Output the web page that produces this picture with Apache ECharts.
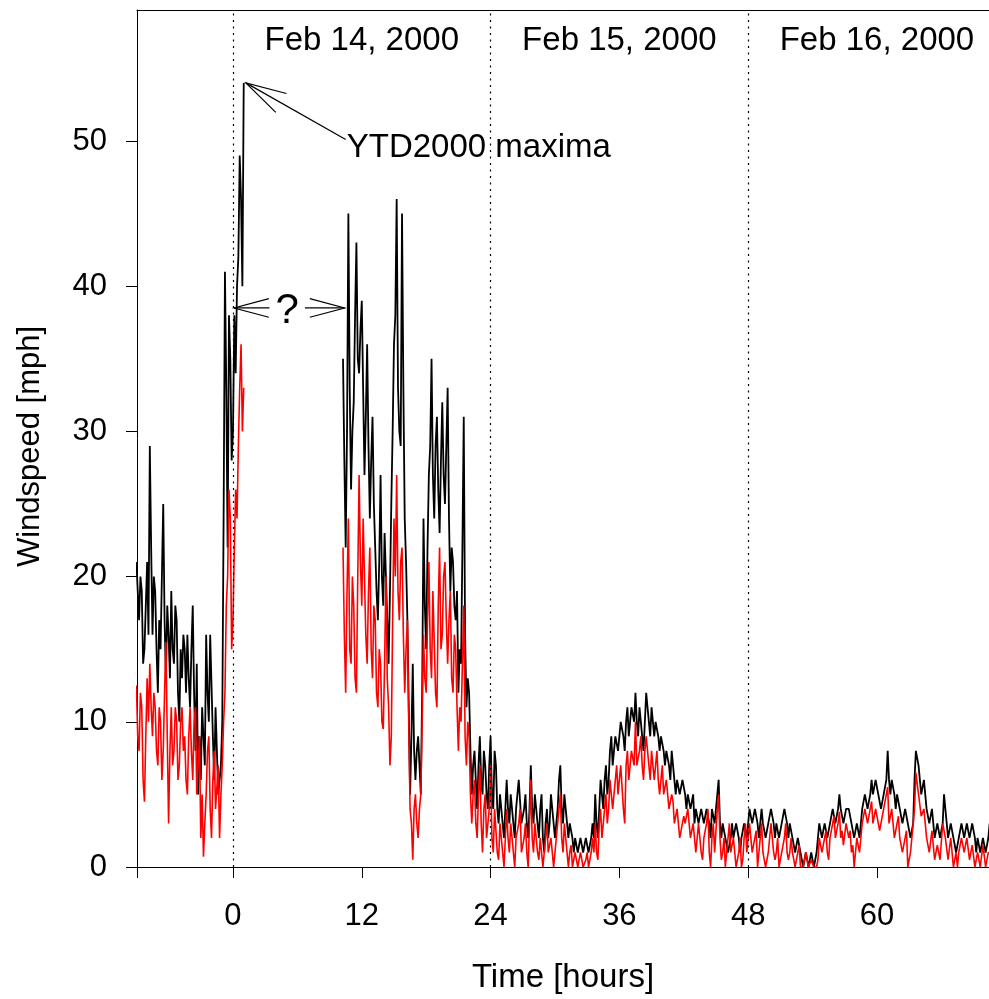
<!DOCTYPE html>
<html><head><meta charset="utf-8">
<script src="https://cdn.jsdelivr.net/npm/echarts@6/dist/echarts.min.js"></script>
<style>html,body{margin:0;padding:0;background:#fff}#c{width:989px;height:999px}</style>
</head><body><div id="c"></div>
<script>
// sampling step (hours) and segment start times
const STEP = 0.125;
const startA = -9;
const startB = 10.25;

// gust (black) before the data gap, -9 h .. 1 h (8 readings per hour)
const gustA = [
  21,19,17,20,19,14,15,18,
  21,16,29,22,16,20,19,15,
  12,17,15,20,25,17,13,18,
  16,13,19,15,14,18,17,12,
  10,15,13,16,15,12,16,13,
  11,15,18,12,8,14,5,9,
  6,11,9,7,16,12,10,16,
  16,9,6,11,8,5,5,7,
  10,24,41,33,22,38,35,28,
  30,38,34,40,42,49,46,40,
  54
];
// mean (red) before the gap
const meanA = [
  12.5,9,8,12,11,6,4.5,9,
  13,10,14,11,9,12,11,8,
  7,11,10,6,8,12,15.5,9,
  3,8,11,7,8,11,10,6,
  7,10,11,8,9,6,5,9,
  11,8,6,10,11,5,7,9,
  2,5,0.7,3,5,8,9,4,
  2,6,8,4,4,7,2,5,
  7,10,12,18,20,26,24,15,
  17,22,26,24,29,33,36,30,
  33
];

// gust (black) after the gap, 10.25 h .. 70.5 h
const gustB = [
  35,28,22,30,45,33,
  26,30,32,38,43,35,34,37,
  39,33,27,31,36,29,24,28,
  31,25,22,19,17,21,27,20,
  18,23,20,17,14,19,25,30,
  36,38,46,33,30,29,45,33,
  24,21,17,11,5,9,14,8,
  6,8,9,7,5,12,24,18,
  15,22,27,29,35,27,24,29,
  31,26,23,28,32,27,25,29,
  33,24,19,22,21,18,17,19,
  12,15,14,22,31,16,11,13,
  12,8,5,7,8,6,4,7,
  9,6,5,8,7,5,4,7,
  9,5,4,8,7,4,3,5,
  5,3,2,4,6,4,3,5,
  4,3,2,4,5,6,6,3,
  3,4,5,3,2,4,7,4,
  3,5,4,3,2,4,5,2,
  1,3,4,2,3,5,5,3,
  2,3,4,6,7,4,3,5,
  4,3,2,3,3,2,1,2,
  2,1,1,2,2,1,1,2,
  2,1,1,2,3,2,5,3,
  2,4,6,5,4,6,7,5,
  6,8,9,7,7,9,9,8,
  8,10,10,9,8,10,11,9,
  9,11,11,10,12,10,9,11,
  11,9,8,10,12,11,10,9,
  11,10,9,10,10,9,8,9,
  9,8,7,8,8,7,6,8,
  7,6,5,6,6,5,5,6,
  6,5,4,5,5,4,4,5,
  3,4,4,3,3,4,4,3,
  3,4,4,3,2,4,4,3,
  3,5,6,3,2,3,3,2,
  2,1,1,2,3,2,2,3,
  3,2,1,2,2,3,3,2,
  2,4,4,3,3,4,4,3,
  2,3,4,3,3,2,2,3,
  3,4,4,3,2,3,3,2,
  2,3,3,4,4,3,2,3,
  3,2,2,1,1,2,2,1,
  1,0,0,1,1,0,0,1,
  1,0,0,1,1,3,3,2,
  2,3,3,2,2,3,3,4,
  4,3,3,4,5,4,4,3,
  3,4,4,4,4,3,3,2,
  2,3,3,2,2,4,4,5,
  5,4,4,5,6,5,5,6,
  6,5,5,4,4,5,5,6,
  8,6,5,6,6,5,4,5,
  5,4,4,3,3,4,4,3,
  3,2,2,3,6,8,8,7,
  7,5,5,6,6,4,4,3,
  3,4,4,2,2,3,3,2,
  2,3,5,4,3,2,2,3,
  3,2,2,1,1,2,2,3,
  3,2,2,3,3,2,2,3,
  3,2,1,2,2,1,1,2,
  2,1,1,2,3
];
// mean (red) after the gap
const meanB = [
  22,16,12,19,24,15,
  14,20,18,13,12,20,27,21,
  18,24,24,16,14,19,22,15,
  13,18,17,12,11,15,14,10,
  9.5,14,20,13,11,7,9,17,
  24,20,27,19,17,21,22,16,
  12,15,17,10,4,3,0.5,4,
  5,3,2,4,5,10,16,13,
  12,17,21,15,13,19,19,12,
  11,18,22,15,16,20,21,17,
  14,17,19,13,12,16,15,11,
  8,11,10,14,18,9,7,10,
  9,5,3,5,6,3,2,5,
  7,3,1,4,5,2,2,4,
  7,2,1,4,4,1,0.5,3,
  3,1,0,2,4,2,1,3,
  3,1,0,2,2,3,4,1,
  1,2,3,1,0,3,6,2,
  1,3,3,1,0.5,2,2,0,
  0,2,3,1,1,2,2,0,
  0,2,3,4,5,2,1,3,
  2,1,0,1,1.5,0,0,1,
  1,0,0,1,1,0,0,0.5,
  1,0,0,1,2,1,3,1,
  0.5,3,4,2,2,4,5,3,
  4,6,6,4,4,6,7,5,
  6,7,7,4,3,7,8,6,
  6,8,8,7,10,7,7,8,
  9,7,6,8,9,8,7,6,
  8,7,6,7,8,6,5,6,
  7,5,5,6,6,4,4,5,
  4.5,3,3,4,4,2,2.5,3,
  3.5,3,3,4,4,2,2,3,
  3,1,1,3,3,1,0.5,2,
  2,3,4,1,0,2,3,1,
  1,4,5,2,0.5,1,2,0,
  0,2,3,1,1,2,2,0,
  0,1,2,0,0.5,2,3,1,
  1,3,3,1,1,2,2.5,0,
  0,2,3,1,1,0,0,1,
  2,3,3,1,0.5,1,2,0,
  0,1,1.5,2,3,1,0.5,1,
  2,1,1,0,0,1,1.5,0,
  0,0,0,1,1,0,0,0.5,
  0.5,0,0,0,0.5,2,2,1,
  1,2,2.5,1,0.5,2,2,3,
  3.5,2,2,3,3.8,2,2.5,1.5,
  1.5,3,3,2,2.5,1,1.5,0,
  0,2,2,1,1,3,3,4,
  4,3,3,4,4.5,3,3,4,
  4,3,2.5,3,3,4,4,5,
  5.5,3,3,4,4,2,2,3,
  3.5,2,2,1,1,2,2.5,0,
  0,1,1,3,4,6.5,6.5,5,
  5,3.5,3.5,4,4,2,2,1,
  1,2.5,2.5,0.5,0.5,1.5,1.5,0.5,
  0.5,3,3,2,2,0.5,0.5,2,
  2,0,0,1,0,1,1,2,
  2,1,1,2,2,0.5,0.5,1.5,
  1.5,0,0,1,1,0,0,1.5,
  1.5,0,0,1,1
];

const xTicks = [0, 12, 24, 36, 48, 60];
const yTicks = [0, 10, 20, 30, 40, 50];
const dayLines = [0, 24, 48];
const dayLabels = ['Feb 14, 2000', 'Feb 15, 2000', 'Feb 16, 2000'];
const dayLabelHours = [12, 36, 60];
const maxLabel = 'YTD2000 maxima';
const xName = 'Time [hours]';
const yName = 'Windspeed [mph]';

const XMIN = -8.944, XMAX = 70.44, YMAX = 59.02;
const FONT = '"Liberation Sans", Arial, Helvetica, sans-serif';
const FS = 31, FS_BIG = 33;

function build(a, sa, b, sb) {
  const out = a.map((v, i) => [sa + i * STEP, v]);
  out.push([(sa + (a.length - 1) * STEP + sb) / 2, null]);
  b.forEach((v, i) => out.push([sb + i * STEP, v]));
  return out;
}
const gust = build(gustA, startA, gustB, startB);
const mean = build(meanA, startA, meanB, startB);
const peakIdx = gustA.indexOf(Math.max(...gustA));
const peak = [startA + peakIdx * STEP, gustA[peakIdx]];

const chart = echarts.init(document.getElementById('c'), null, {renderer: 'canvas'});
const txt = {fontSize: FS, color: '#000', fontFamily: FONT};
chart.setOption({
  animation: false,
  backgroundColor: '#fff',
  grid: {left: 137, right: 0, top: 10, bottom: 132},
  xAxis: [{
    type: 'value', min: XMIN, max: XMAX, position: 'bottom',
    axisLine: {show: true, onZero: false, lineStyle: {color: '#000', width: 1}},
    axisTick: {show: true, length: 11, customValues: [XMIN].concat(xTicks), lineStyle: {color: '#000', width: 1}},
    axisLabel: Object.assign({customValues: xTicks, margin: 34}, txt),
    splitLine: {show: false},
    name: xName, nameLocation: 'middle', nameGap: 94,
    nameTextStyle: {fontSize: FS_BIG, color: '#000', fontFamily: FONT}
  }, {
    type: 'value', min: XMIN, max: XMAX, position: 'top',
    axisLine: {show: true, onZero: false, lineStyle: {color: '#000', width: 1}},
    axisTick: {show: false}, axisLabel: {show: false}, splitLine: {show: false}
  }],
  yAxis: {
    type: 'value', min: 0, max: YMAX,
    axisLine: {show: true, onZero: false, lineStyle: {color: '#000', width: 1}},
    axisTick: {show: true, length: 11, customValues: yTicks, lineStyle: {color: '#000', width: 1}},
    axisLabel: Object.assign({customValues: yTicks, margin: 30}, txt),
    splitLine: {show: false}
  },
  series: [{
    type: 'line', xAxisIndex: 0, data: gust, symbol: 'none', connectNulls: false, clip: true,
    lineStyle: {color: '#000', width: 1.8},
    markLine: {
      silent: true, symbol: 'none', label: {show: false},
      lineStyle: {color: '#000', width: 1.2, type: [2, 4.5]},
      data: dayLines.map(d => ({xAxis: d}))
    }
  }, {
    type: 'line', xAxisIndex: 0, data: mean, symbol: 'none', connectNulls: false, clip: true,
    lineStyle: {color: '#ff0000', width: 1.6}
  }]
});

const P = (x, y) => chart.convertToPixel({xAxisIndex: 0, yAxisIndex: 0}, [x, y]);
function arrow(tail, tip, len, ang) {
  const a = Math.atan2(tail[1] - tip[1], tail[0] - tip[0]);
  const r = ang * Math.PI / 180;
  const h1 = [tip[0] + len * Math.cos(a + r), tip[1] + len * Math.sin(a + r)];
  const h2 = [tip[0] + len * Math.cos(a - r), tip[1] + len * Math.sin(a - r)];
  const st = {stroke: '#000', lineWidth: 1.2, fill: null};
  return [
    {type: 'polyline', shape: {points: [tail, tip]}, style: st, z: 100},
    {type: 'polyline', shape: {points: [h1, tip, h2]}, style: st, z: 100}
  ];
}
const els = [];
dayLabelHours.forEach((h, i) => {
  const p = P(h, 56.9);
  els.push({type: 'text', x: p[0], y: p[1], style: {text: dayLabels[i], fill: '#000', font: FS_BIG + 'px ' + FONT, align: 'center', verticalAlign: 'middle'}, z: 100});
});
const tip = P(peak[0] + 0.2, peak[1]);
const tail = P(10.5, 50.1);
els.push(...arrow(tail, tip, 42, 15));
const tp = P(10.6, 49.5);
els.push({type: 'text', x: tp[0], y: tp[1], style: {text: maxLabel, fill: '#000', font: FS_BIG + 'px ' + FONT, align: 'left', verticalAlign: 'middle'}, z: 100});
const qy = 38.5;
els.push(...arrow(P(3.4, qy), P(0.1, qy), 36, 15));
els.push(...arrow(P(6.7, qy), P(10.4, qy), 36, 15));
const qp = P(5.05, qy);
els.push({type: 'text', x: qp[0], y: qp[1] + 3, style: {text: '?', fill: '#000', font: '42px ' + FONT, align: 'center', verticalAlign: 'middle'}, z: 100});
// y axis title
const gridMid = (P(0, 0)[1] + P(0, YMAX)[1]) / 2;
els.push({type: 'text', x: 30, y: gridMid + 8, rotation: Math.PI / 2, style: {text: yName, fill: '#000', font: FS + 'px ' + FONT, align: 'center', verticalAlign: 'middle'}, z: 100});
chart.setOption({graphic: {elements: els}});
</script>
</body></html>
